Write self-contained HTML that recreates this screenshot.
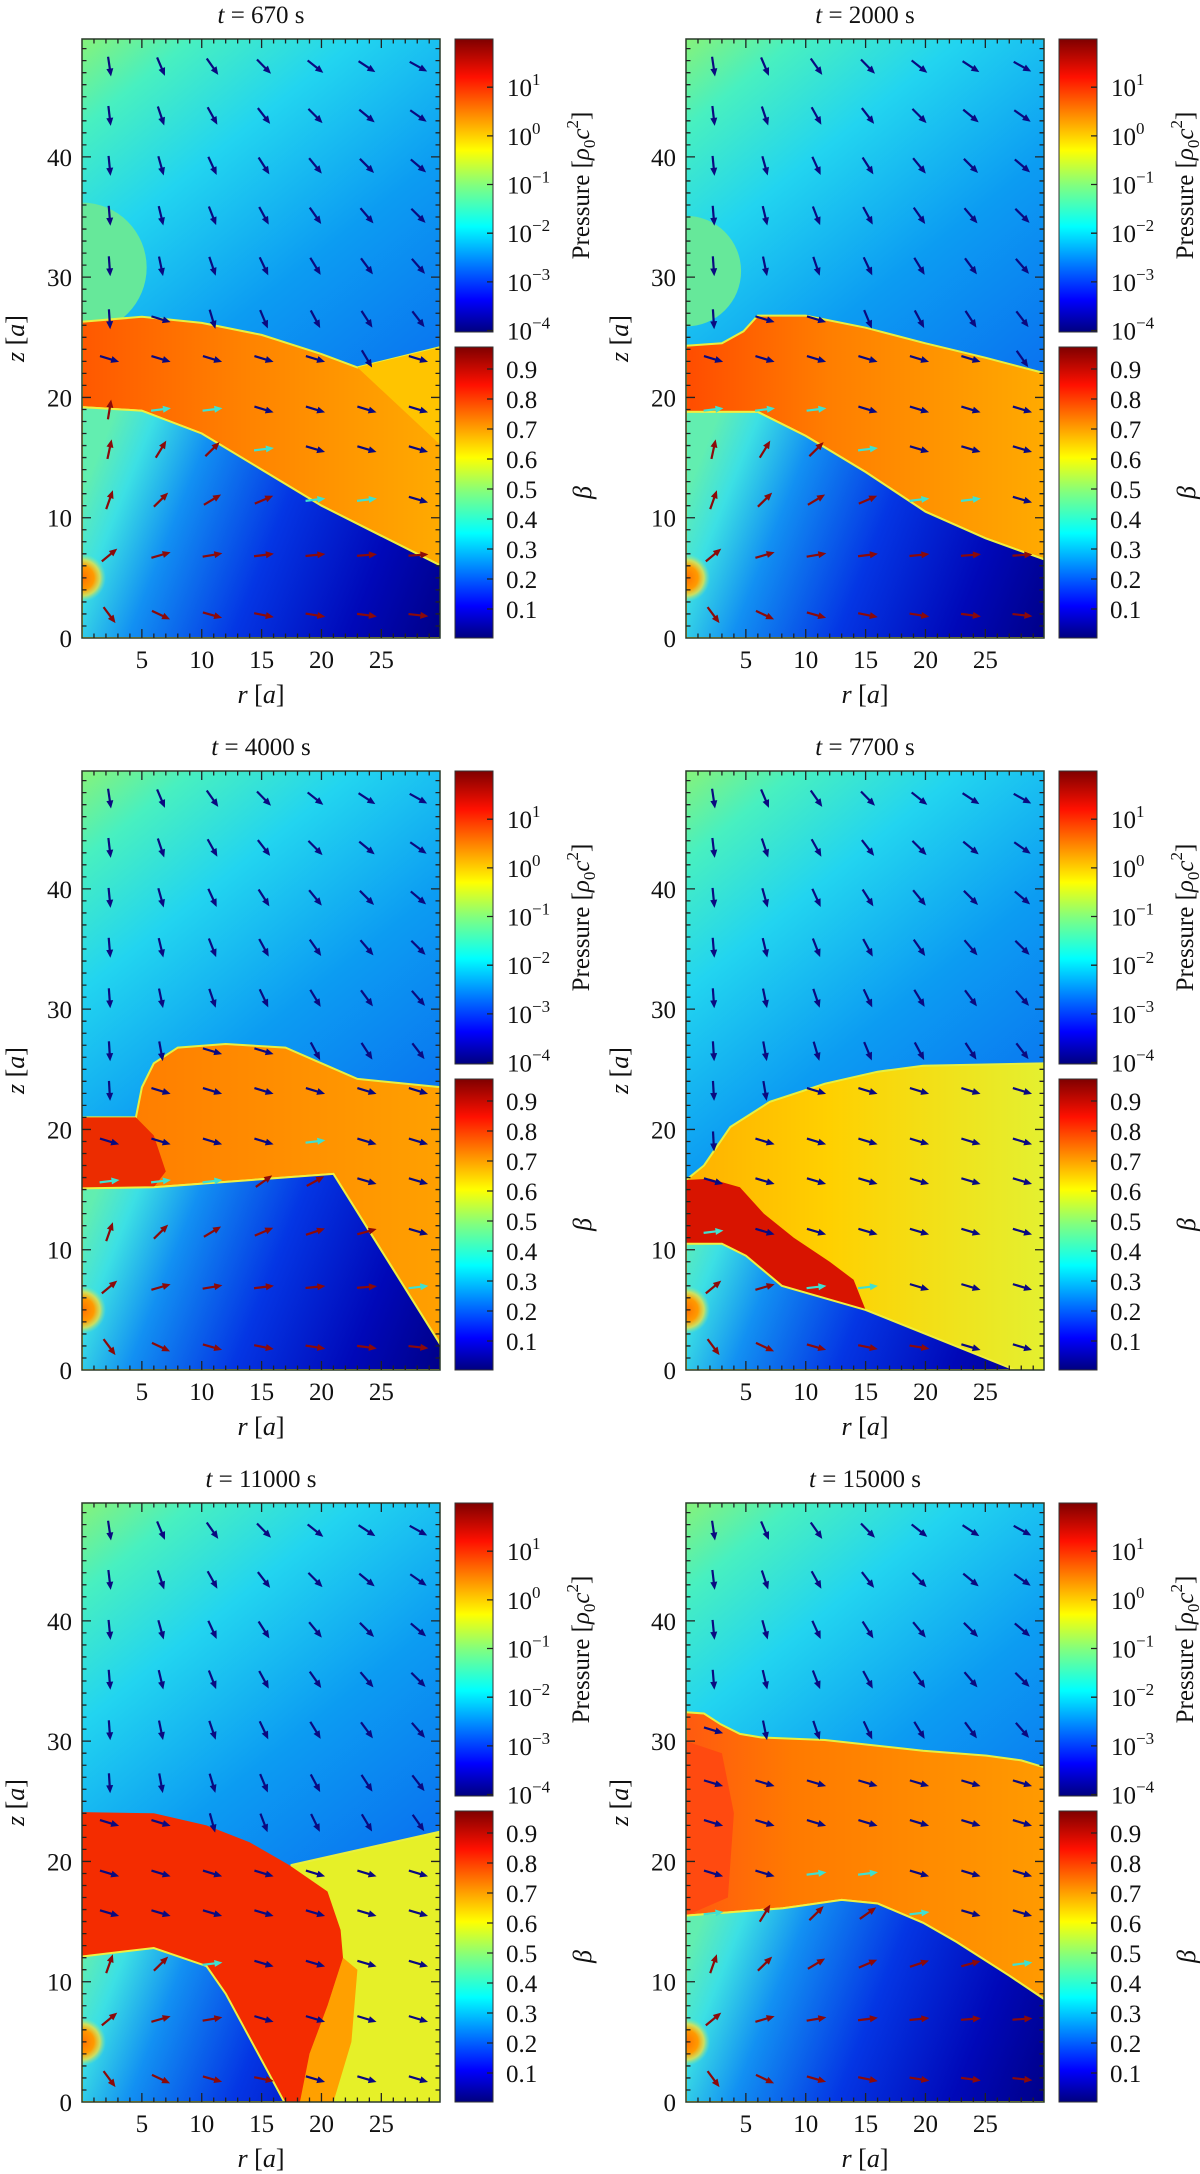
<!DOCTYPE html>
<html><head><meta charset="utf-8"><style>
html,body{margin:0;padding:0;background:#fff;}
svg{display:block;font-family:"Liberation Serif",serif;}
</style></head><body>
<svg id="fig" width="1200" height="2174" viewBox="0 0 1200 2174" xmlns="http://www.w3.org/2000/svg"><defs id="defs"></defs></svg>
<script>
// ---------- data (r,z in units of a) ----------
const panelTimes = ['670','2000','4000','7700','11000','15000'];
const pressureTicks = [1,0,-1,-2,-3,-4];
const betaTicks = [0.9,0.8,0.7,0.6,0.5,0.4,0.3,0.2,0.1];
const rTicks = [5,10,15,20,25];
const zTicks = [0,10,20,30,40];
const arrowRows = [47.5,43.4,39.25,35.1,30.9,26.5,23.2,19.0,15.7,11.5,6.9,1.9];
const arrowCols = [2.3,6.6,10.9,15.2,19.5,23.8,28.1];
// panel 1
const p1Jet = [[0,26.3],[5,26.7],[10,26.2],[15,25.2],[20,23.6],[23,22.5],[30,24.2],[30,6],[25,8.5],[20,11],[15,14],[10,17],[5,18.9],[0,19.2]];
const p1Lower = [[0,19.2],[5,18.9],[10,17],[15,14],[20,11],[25,8.5],[30,6],[30,0],[0,0]];
const p1Wedge = [[23,22.5],[30,24.2],[30,16]];
// panel 2
const p2Jet = [[0,24.3],[3,24.5],[4.8,25.5],[6,26.8],[10,26.8],[15,25.8],[20,24.5],[25,23.3],[30,22],[30,6.5],[25,8.3],[20,10.5],[15,13.8],[10,16.8],[6,18.8],[0,18.8]];
const p2Lower = [[0,18.8],[6,18.8],[10,16.8],[15,13.8],[20,10.5],[25,8.3],[30,6.5],[30,0],[0,0]];
// panel 3
const p3Jet = [[0,21],[4.5,21],[5,23.5],[6,25.5],[8,26.8],[12,27.1],[17,26.8],[20,25.5],[23,24.2],[30,23.5],[30,2],[21,16.3],[6,15.2],[0,15.1]];
const p3Red = [[0,21],[4.5,21],[6,19.5],[7,16.5],[6,15.2],[0,15.1]];
const p3Lower = [[0,15.1],[6,15.2],[21,16.3],[30,2],[30,0],[0,0]];
// panel 4
const p4Jet = [[0,15.8],[1.5,17],[3.7,20.2],[7,22.3],[11.6,23.8],[16,24.8],[19.8,25.3],[30,25.5],[30,0],[27.5,0],[25,1],[20,3],[15,5],[8,7],[5,9.5],[3,10.5],[0,10.5]];
const p4Red = [[0,15.8],[2,15.9],[4.5,15.2],[6.5,13],[9,11],[12,9],[14,7.5],[15,5],[8,7],[5,9.5],[3,10.5],[0,10.5]];
const p4Lower = [[0,10.5],[3,10.5],[5,9.5],[8,7],[15,5],[20,3],[25,1],[27.5,0],[0,0]];
// panel 5
const p5Yellow = [[17.5,19.7],[30,22.5],[30,0],[17,0]];
const p5Red = [[0,24.1],[6,24],[10.4,23],[14,21.6],[17.3,19.7],[20.5,17.5],[21.6,14.3],[21.8,12],[20.5,8],[19,4],[18.2,0],[16.9,0],[12,9],[10.4,11.3],[6,12.8],[0,12.1]];
const p5Orange = [[17,0],[19,4],[20.5,8],[21.8,12],[23,11],[22.5,5],[21,0]];
const p5Lower = [[0,12.1],[6,12.8],[10.4,11.3],[12,9],[16.9,0],[0,0]];
// panel 6
const p6Jet = [[0,32.4],[1.5,32.3],[2.9,31.4],[4.5,30.6],[6.3,30.3],[11.6,30.1],[19.8,29.2],[25.1,28.8],[28,28.4],[30,27.8],[30,8.5],[27,10.5],[22.6,13.3],[19.8,14.9],[16,16.5],[13,16.8],[8.1,16.1],[0,15.5]];
const p6Red = [[0,30],[3,29],[4,24],[3.5,17],[0,15.5]];
const p6Lower = [[0,15.5],[8.1,16.1],[13,16.8],[16,16.5],[19.8,14.9],[22.6,13.3],[27,10.5],[30,8.5],[30,0],[0,0]];

const NS='http://www.w3.org/2000/svg';
const svg=document.getElementById('fig');
const defs=document.getElementById('defs');
function el(tag,attrs,parent){const e=document.createElementNS(NS,tag);for(const k in attrs)e.setAttribute(k,attrs[k]);(parent||svg).appendChild(e);return e;}

const W=358,H=599,RMAX=29.9,ZMAX=49.8;
const colX=[82,686], rowY=[39,771,1503];
function inPoly(pt,poly){let c=false;for(let i=0,j=poly.length-1;i<poly.length;j=i++){const [xi,yi]=poly[i],[xj,yj]=poly[j];if(((yi>pt[1])!=(yj>pt[1]))&&(pt[0]<(xj-xi)*(pt[1]-yi)/(yj-yi)+xi))c=!c;}return c;}
function inPolyAny(pt,polys){return polys.some(p=>inPoly(pt,p));}

function grad(id,x1,y1,x2,y2,stops){const g=el('linearGradient',{id:id,gradientUnits:'userSpaceOnUse',x1:x1,y1:y1,x2:x2,y2:y2},defs);stops.forEach(s=>el('stop',{offset:s[0],'stop-color':s[1]},g));return g;}

const jetStops=[[0,'#00007f'],[0.11,'#0000ff'],[0.36,'#00ffff'],[0.5,'#80ff80'],[0.62,'#ffff00'],[0.87,'#ff1000'],[1,'#7f0000']];

function panel(idx,jetPolys,lowerPoly,extras){
  const x0=colX[idx%2], y0=rowY[Math.floor(idx/2)];
  const X=r=>x0+r*W/RMAX, Y=z=>y0+H-z*H/ZMAX;
  const pts=p=>p.map(q=>X(q[0]).toFixed(1)+','+Y(q[1]).toFixed(1)).join(' ');
  const g=el('g',{});
  
  
  const cp=el('clipPath',{id:'cp'+idx},defs); el('rect',{x:x0,y:y0,width:W,height:H},cp);
  grad('bg'+idx,x0,y0,x0+W,y0+H*0.75,[[0,'#86f27a'],[0.12,'#48f0c0'],[0.3,'#22d4f0'],[0.55,'#0c9cf2'],[0.8,'#0a78f0'],[1,'#0a64ec']]);
  grad('low'+idx,x0,Y(12),x0+W,y0+H,[[0,'#62eeb0'],[0.1,'#3ce0e4'],[0.25,'#1290f2'],[0.5,'#0436e4'],[0.78,'#0008b8'],[1,'#000088']]);
  grad('jet'+idx,x0,y0,x0+W,y0,extras.jetStops);
  const field=el('g',{'clip-path':'url(#cp'+idx+')'},g);
  
  
  el('rect',{x:x0,y:y0,width:W,height:H,fill:'url(#bg'+idx+')'},field);
  if(extras.bubble){const b=extras.bubble;el('ellipse',{cx:X(0),cy:Y(b[1]),rx:b[2]*W/RMAX,ry:b[2]*H/ZMAX,fill:'#66e89a'},field);}
  jetPolys.forEach((p,i)=>{
    const pg=el('polygon',{points:pts(p[0]),fill:p[1]==='jet'?'url(#jet'+idx+')':p[1],stroke:'#e8f040','stroke-width':i===0?2:0},field);
    
    
  });
  const lp=el('polygon',{points:pts(lowerPoly),fill:'url(#low'+idx+')',stroke:'#f0f040','stroke-width':2},field);
  
  
  const rg=el('radialGradient',{id:'star'+idx,gradientUnits:'userSpaceOnUse',cx:X(0),cy:Y(5),r:24},defs);
  [[0,'#ff7000',1],[0.5,'#ff9a00',1],[0.75,'#f0e040',0.8],[1,'#80f0a0',0]].forEach(s=>el('stop',{offset:s[0],'stop-color':s[1],'stop-opacity':s[2]},rg));
  const st=el('circle',{cx:X(0),cy:Y(5),r:24,fill:'url(#star'+idx+')'},field);
  
  
  // arrows
  const jp=jetPolys.map(p=>p[0]);
  arrowRows.forEach(z=>arrowCols.forEach(r=>{
    let dx,dz,col;
    const inJet=jp.some(p=>inPoly([r,z],p));
    if(inPoly([r,z],lowerPoly)){dx=r;dz=z-5;col='#8b0a0a';}
    else if(inJet){
      if(inPoly([r,z-3],lowerPoly)){dx=1;dz=0.12;col='#40e0d0';}
      else {dx=1;dz=-0.3;col='#0a0a80';}
    } else {dx=r;dz=z-63;col='#0a0a80';}
    const L=Math.hypot(dx,dz), ux=dx/L, uy=-dz/L, len=20;
    const cx=X(r), cy=Y(z);
    const x1=cx-ux*len/2,y1=cy-uy*len/2,x2=cx+ux*len/2,y2=cy+uy*len/2;
    const a=el('g',{},field);
    
    
    el('line',{x1:x1,y1:y1,x2:x2-ux*5,y2:y2-uy*5,stroke:col,'stroke-width':2.2},a);
    const px=-uy,py=ux;
    el('polygon',{points:`${x2},${y2} ${x2-ux*8+px*3.5},${y2-uy*8+py*3.5} ${x2-ux*8-px*3.5},${y2-uy*8-py*3.5}`,fill:col},a);
  }));
  // frame and ticks
  const fr=el('rect',{x:x0,y:y0,width:W,height:H,fill:'none',stroke:'#2a3a2a','stroke-width':1.5},g);
  
  
  let d='';
  for(let r=1;r<30;r++){const l=r%5===0?9:4.5;d+=`M${X(r)},${y0+H}v${-l}M${X(r)},${y0}v${l}`;}
  for(let z=1;z<50;z++){const l=z%10===0?9:4.5;d+=`M${x0},${Y(z)}h${l}M${x0+W},${Y(z)}h${-l}`;}
  el('path',{d:d,stroke:'#222',fill:'none','stroke-width':1.3},g);
  rTicks.forEach(v=>{const t=el('text',{x:X(v),y:y0+H+30,'font-size':25,'text-anchor':'middle',fill:'#111'},g);t.textContent=v;
    });
  zTicks.forEach(v=>{const t=el('text',{x:x0-10,y:Y(v)+9,'font-size':25,'text-anchor':'end',fill:'#111'},g);t.textContent=v;
    });
  const xt=el('text',{x:x0+W/2,y:y0+H+65,'font-size':26,'text-anchor':'middle',fill:'#111'},g);
  xt.innerHTML='<tspan font-style="italic">r</tspan> [<tspan font-style="italic">a</tspan>]';
  
  const yt=el('text',{x:0,y:0,'font-size':26,'text-anchor':'middle',fill:'#111',transform:`translate(${x0-58},${y0+H/2}) rotate(-90)`},g);
  yt.innerHTML='<tspan font-style="italic">z</tspan> [<tspan font-style="italic">a</tspan>]';
  
  const tt=el('text',{x:x0+W/2,y:y0-16,'font-size':25,'text-anchor':'middle',fill:'#111'},g);
  tt.innerHTML='<tspan font-style="italic">t</tspan> = '+panelTimes[idx]+' s';
  
  // colorbars
  const cx0=x0+373, cw=38;
  const pTop=y0, pBot=y0+293, bTop=y0+308, bBot=y0+H;
  grad('cb'+idx,0,pBot,0,pTop,jetStops);
  const cb1=el('rect',{x:cx0,y:pTop,width:cw,height:pBot-pTop,fill:'url(#cb'+idx+')',stroke:'#333','stroke-width':1},g);
  
  grad('cbb'+idx,0,bBot,0,bTop,jetStops);
  const cb2=el('rect',{x:cx0,y:bTop,width:cw,height:bBot-bTop,fill:'url(#cbb'+idx+')',stroke:'#333','stroke-width':1},g);
  
  const PY=v=>pTop+(1.99-v)/(1.99+4.03)*(pBot-pTop);
  const BY=v=>y0+H+1-v*300;
  let cd='';
  pressureTicks.forEach(v=>{const yy=PY(v);cd+=`M${cx0+cw},${yy}h-6`;
    const t=el('text',{x:cx0+cw+14,y:yy+9,'font-size':25,fill:'#111'},g);
    t.innerHTML='10<tspan dy="-11" font-size="17">'+(v<0?'\u2212'+(-v):v)+'</tspan>';
    });
  betaTicks.forEach(v=>{const yy=BY(v);cd+=`M${cx0+cw},${yy}h-6`;
    const t=el('text',{x:cx0+cw+13,y:yy+9,'font-size':25,fill:'#111'},g);t.textContent=v.toFixed(1);
    });
  el('path',{d:cd,stroke:'#222','stroke-width':1.3},g);
  const pl=el('text',{x:0,y:0,'font-size':25,'text-anchor':'middle',fill:'#111',transform:`translate(${cx0+134},${(pTop+pBot)/2}) rotate(-90)`},g);
  pl.innerHTML='Pressure [<tspan font-style="italic">ρ</tspan><tspan dy="6" font-size="17">0</tspan><tspan dy="-6" font-style="italic">c</tspan><tspan dy="-11" font-size="17">2</tspan><tspan dy="11">]</tspan>';
  
  const bl=el('text',{x:0,y:0,'font-size':26,'text-anchor':'middle','font-style':'italic',fill:'#111',transform:`translate(${cx0+136},${(bTop+bBot)/2}) rotate(-90)`},g);
  bl.textContent='β';
  
}

const orangeStops=[[0,'#ff5800'],[0.45,'#ff8200'],[1,'#ffaa00']];
panel(0,[[p1Jet,'jet'],[p1Wedge,'#ffc400']],p1Lower,{jetStops:orangeStops,bubble:[0,30.8,5.4]});
panel(1,[[p2Jet,'jet']],p2Lower,{jetStops:[[0,'#ff4c00'],[0.4,'#ff7e00'],[1,'#ffaa00']],bubble:[0,30.5,4.6]});
panel(2,[[p3Jet,'jet'],[p3Red,'#ec2c00']],p3Lower,{jetStops:[[0,'#ff7800'],[0.5,'#ff8c00'],[1,'#ffa000']]});
panel(3,[[p4Jet,'jet'],[p4Red,'#d81400']],p4Lower,{jetStops:[[0,'#ffb000'],[0.4,'#ffd000'],[1,'#e4f030']]});
panel(4,[[p5Yellow,'#e6f028'],[p5Orange,'#ffa000'],[p5Red,'#f42c00']],p5Lower,{jetStops:orangeStops});
panel(5,[[p6Jet,'jet'],[p6Red,'#ff4a10']],p6Lower,{jetStops:[[0,'#ff5a10'],[0.3,'#ff7a00'],[1,'#ff9a00']]});
</script>
</body></html>
